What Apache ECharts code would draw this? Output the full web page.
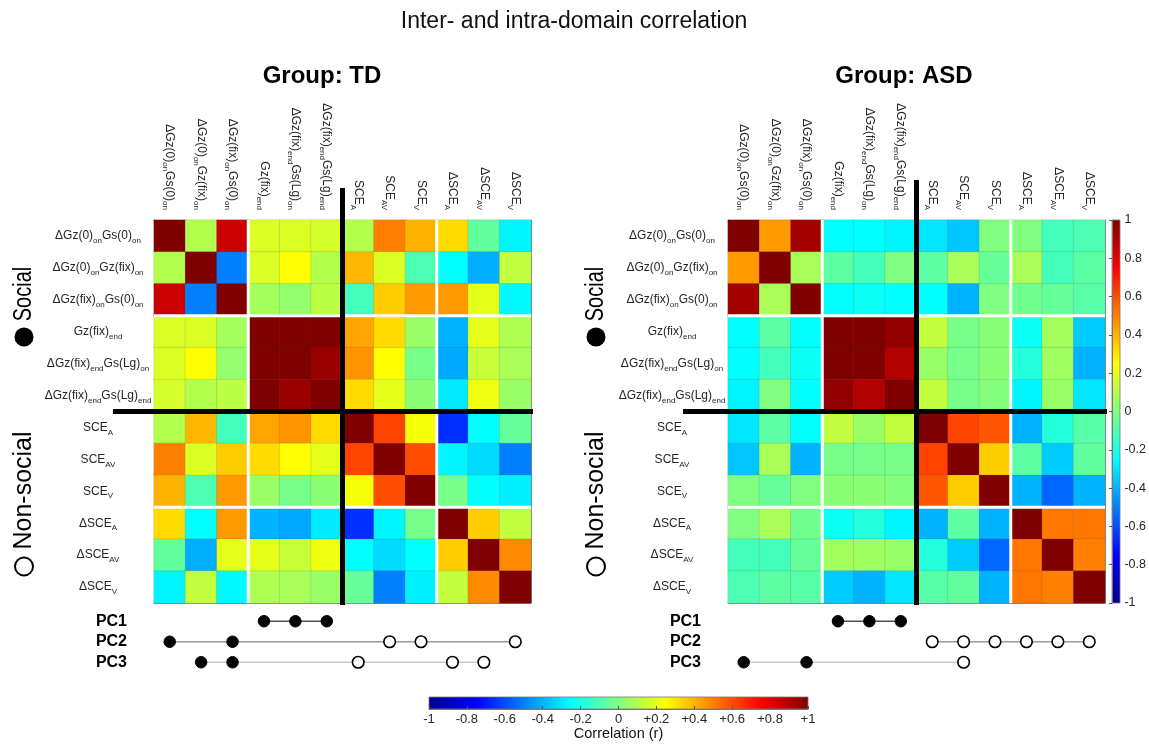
<!DOCTYPE html>
<html><head><meta charset="utf-8">
<script src="https://cdn.jsdelivr.net/npm/echarts@6/dist/echarts.min.js"></script>
<style>html,body{margin:0;padding:0;background:#fff}#c{width:1149px;height:744px}</style>
</head><body><div id="c"></div>
<script>
// ---------------- DATA ----------------
const varLabels = ['ΔGz(0)_{on}Gs(0)_{on}', 'ΔGz(0)_{on}Gz(fix)_{on}', 'ΔGz(fix)_{on}Gs(0)_{on}', 'Gz(fix)_{end}',
  'ΔGz(fix)_{end}Gs(Lg)_{on}', 'ΔGz(fix)_{end}Gs(Lg)_{end}', 'SCE_{A}', 'SCE_{AV}', 'SCE_{V}', 'ΔSCE_{A}', 'ΔSCE_{AV}', 'ΔSCE_{V}'];
const pcLabels = ['PC1', 'PC2', 'PC3'];
const domainLabels = ['Social', 'Non-social'];
const groupTitles = ['Group: TD', 'Group: ASD'];
const mainTitle = 'Inter- and intra-domain correlation';
const colorbarName = 'Correlation (r)';

const tdMatrix = [
  [1.00, 0.10, 0.85, 0.18, 0.18, 0.17, 0.10, 0.50, 0.40, 0.32, -0.06, -0.27],
  [0.10, 1.00, -0.50, 0.18, 0.25, 0.10, 0.39, 0.18, -0.10, -0.25, -0.41, 0.13],
  [0.85, -0.50, 1.00, 0.07, 0.04, 0.12, -0.12, 0.35, 0.45, 0.45, 0.20, -0.26],
  [0.18, 0.18, 0.07, 1.00, 1.00, 1.00, 0.43, 0.32, 0.05, -0.40, 0.20, 0.09],
  [0.18, 0.25, 0.04, 1.00, 1.00, 0.95, 0.46, 0.25, -0.02, -0.42, 0.14, 0.08],
  [0.17, 0.10, 0.12, 1.00, 0.95, 1.00, 0.32, 0.20, 0.02, -0.29, 0.22, 0.05],
  [0.10, 0.39, -0.12, 0.43, 0.46, 0.32, 1.00, 0.62, 0.23, -0.66, -0.25, -0.05],
  [0.50, 0.18, 0.35, 0.32, 0.25, 0.20, 0.62, 1.00, 0.60, -0.27, -0.32, -0.50],
  [0.40, -0.10, 0.45, 0.05, -0.02, 0.02, 0.23, 0.60, 1.00, -0.02, -0.25, -0.28],
  [0.32, -0.25, 0.45, -0.40, -0.42, -0.29, -0.66, -0.27, -0.02, 1.00, 0.35, 0.13],
  [-0.06, -0.41, 0.20, 0.20, 0.14, 0.22, -0.25, -0.32, -0.25, 0.35, 1.00, 0.48],
  [-0.27, 0.13, -0.26, 0.09, 0.08, 0.05, -0.05, -0.50, -0.28, 0.13, 0.48, 1.00]
];
const asdMatrix = [
  [1.00, 0.45, 0.93, -0.25, -0.25, -0.27, -0.30, -0.36, 0.00, 0.00, -0.12, -0.10],
  [0.45, 1.00, 0.08, -0.07, -0.12, 0.00, -0.07, 0.08, -0.05, 0.08, -0.12, -0.07],
  [0.93, 0.08, 1.00, -0.25, -0.23, -0.25, -0.25, -0.40, 0.00, -0.03, -0.05, -0.08],
  [-0.25, -0.07, -0.25, 1.00, 1.00, 0.96, 0.13, -0.02, 0.02, -0.23, 0.07, -0.35],
  [-0.25, -0.12, -0.23, 1.00, 1.00, 0.90, 0.05, -0.02, 0.02, -0.18, 0.06, -0.40],
  [-0.27, 0.00, -0.25, 0.96, 0.90, 1.00, 0.13, -0.02, 0.01, -0.27, 0.05, -0.30],
  [-0.30, -0.07, -0.25, 0.13, 0.05, 0.13, 1.00, 0.62, 0.58, -0.40, -0.18, -0.08],
  [-0.36, 0.08, -0.40, -0.02, -0.02, -0.02, 0.62, 1.00, 0.35, -0.07, -0.35, -0.06],
  [0.00, -0.05, 0.00, 0.02, 0.02, 0.01, 0.58, 0.35, 1.00, -0.40, -0.55, -0.40],
  [0.00, 0.08, -0.03, -0.23, -0.18, -0.27, -0.40, -0.07, -0.40, 1.00, 0.52, 0.52],
  [-0.12, -0.12, -0.05, 0.07, 0.06, 0.05, -0.18, -0.35, -0.55, 0.52, 1.00, 0.50],
  [-0.10, -0.07, -0.08, -0.35, -0.40, -0.30, -0.08, -0.06, -0.40, 0.52, 0.50, 1.00]
];

// PC loadings: column indices of variables (social = filled, non-social = open)
const tdPC1Social = [3, 4, 5],  tdPC1NonSocial = [];
const tdPC2Social = [0, 2],     tdPC2NonSocial = [7, 8, 11];
const tdPC3Social = [1, 2],     tdPC3NonSocial = [6, 9, 10];
const asdPC1Social = [3, 4, 5], asdPC1NonSocial = [];
const asdPC2Social = [],        asdPC2NonSocial = [6, 7, 8, 9, 10, 11];
const asdPC3Social = [0, 2],    asdPC3NonSocial = [7];

// ---------------- STYLE / LAYOUT ----------------
const FONT = '"Liberation Sans", Arial, Helvetica, sans-serif';
const TXT = '#262626';
const jet = ['#00008f', '#0000ff', '#0080ff', '#00ffff', '#80ff80', '#ffff00', '#ff8000', '#ff0000', '#800000'];
const panels = [
  { left: 154, top: 220, width: 377, height: 383, vExt: 32, hExt: 41, domainX: 24 },
  { left: 728, top: 220, width: 377, height: 383, vExt: 40, hExt: 45, domainX: 596 }
];
const pcGridTop = 611, pcGridH = 61.5;
const vcb = { left: 1112, top: 220, width: 8, height: 383 };
const hcb = { left: 429, top: 697, width: 379, height: 12 };

function toRich(s) {
  let out = '', last = 0, m;
  const re = /_\{([^}]*)\}/g;
  while ((m = re.exec(s))) {
    if (m.index > last) out += '{n|' + s.slice(last, m.index) + '}';
    out += '{s|' + m[1] + '}';
    last = re.lastIndex;
  }
  if (last < s.length) out += '{n|' + s.slice(last) + '}';
  return out;
}
const rich = {
  n: { fontSize: 12, fontFamily: FONT, color: TXT, lineHeight: 18 },
  s: { fontSize: 8, fontFamily: FONT, color: TXT, lineHeight: 9, verticalAlign: 'bottom' }
};
function cells(m) { const d = []; m.forEach((row, i) => row.forEach((v, j) => d.push([j, i, v]))); return d; }
function pcData(social, nonsocial, pc) {
  const items = [];
  social.forEach(c => items.push({ value: [c, pc], symbol: 'circle', itemStyle: { color: '#000', borderColor: '#000', borderWidth: 1 } }));
  nonsocial.forEach(c => items.push({ value: [c, pc], symbol: 'circle', itemStyle: { color: '#fff', borderColor: '#000', borderWidth: 1.6 } }));
  items.sort((a, b) => a.value[0] - b.value[0]);
  return items;
}

const grids = [], xAxes = [], yAxes = [], series = [];
const axisLineStyle = { show: true, lineStyle: { color: '#8c8c8c', width: 1 } };
panels.forEach(p => grids.push({ left: p.left, top: p.top, width: p.width, height: p.height }));
panels.forEach(p => grids.push({ left: p.left, top: pcGridTop, width: p.width, height: pcGridH }));
grids.push(vcb, hcb);

// heatmap axes: per panel -> x top (labels), x bottom, y left (labels), y right
panels.forEach((p, k) => {
  const tick = { inside: true, alignWithLabel: true, length: 3, lineStyle: { color: '#555' } };
  xAxes.push({ type: 'category', gridIndex: k, position: 'top', data: varLabels, axisLine: axisLineStyle, axisTick: tick,
    axisLabel: { rotate: 90, margin: 10, interval: 0, formatter: v => toRich(v), rich: rich } });
  xAxes.push({ type: 'category', gridIndex: k, position: 'bottom', data: varLabels, axisLine: axisLineStyle, axisTick: tick,
    axisLabel: { show: false } });
  yAxes.push({ type: 'category', gridIndex: k, position: 'left', inverse: true, data: varLabels, axisLine: axisLineStyle, axisTick: tick,
    axisLabel: { margin: 56, align: 'center', interval: 0, formatter: v => toRich(v), rich: rich } });
  yAxes.push({ type: 'category', gridIndex: k, position: 'right', inverse: true, data: varLabels, axisLine: axisLineStyle, axisTick: tick,
    axisLabel: { show: false } });
});
// PC axes
panels.forEach((p, k) => {
  xAxes.push({ type: 'category', gridIndex: 2 + k, data: varLabels, show: false });
  yAxes.push({ type: 'category', gridIndex: 2 + k, data: pcLabels, inverse: true,
    axisLine: { show: false }, axisTick: { show: false },
    axisLabel: { margin: 27, interval: 0, fontSize: 16, fontWeight: 'bold', color: '#000', fontFamily: FONT } });
});
// vertical colorbar axes
xAxes.push({ type: 'value', gridIndex: 4, min: 0, max: 1, show: false });
yAxes.push({ type: 'value', gridIndex: 4, position: 'right', min: -1, max: 1, interval: 0.2,
  axisLine: { show: true, lineStyle: { color: '#777' } },
  axisTick: { show: true, inside: true, length: 3, lineStyle: { color: '#555' } },
  splitLine: { show: false },
  axisLabel: { margin: 5, fontSize: 12.5, color: TXT, fontFamily: FONT, formatter: v => String(Math.round(v * 10) / 10) } });
// horizontal colorbar axes
xAxes.push({ type: 'value', gridIndex: 5, position: 'bottom', min: -1, max: 1, interval: 0.2,
  axisLine: { show: true, lineStyle: { color: '#777' } },
  axisTick: { show: true, inside: true, length: 3, lineStyle: { color: '#555' } },
  splitLine: { show: false },
  name: colorbarName, nameLocation: 'middle', nameGap: 17,
  nameTextStyle: { fontSize: 14.5, color: '#111', fontFamily: FONT },
  axisLabel: { margin: 4, fontSize: 13, color: TXT, fontFamily: FONT, formatter: v => { const r = Math.round(v * 10) / 10; return r > 0 ? '+' + r : String(r); } } });
yAxes.push({ type: 'value', gridIndex: 5, min: 0, max: 1, show: false });

// heatmap series
[tdMatrix, asdMatrix].forEach((m, k) => {
  series.push({ type: 'heatmap', xAxisIndex: 2 * k, yAxisIndex: 2 * k, data: cells(m),
    itemStyle: { borderColor: 'rgba(60,60,60,0.22)', borderWidth: 0.6 }, emphasis: { disabled: true }, silent: true });
});
// PC series
const pcLineColors = ['#4d4d4d', '#9a9a9a', '#c9c9c9'];
const tdPCs = [[tdPC1Social, tdPC1NonSocial], [tdPC2Social, tdPC2NonSocial], [tdPC3Social, tdPC3NonSocial]];
const asdPCs = [[asdPC1Social, asdPC1NonSocial], [asdPC2Social, asdPC2NonSocial], [asdPC3Social, asdPC3NonSocial]];
[tdPCs, asdPCs].forEach((pcs, k) => {
  pcs.forEach((pc, i) => {
    series.push({ type: 'line', xAxisIndex: 4 + k, yAxisIndex: 4 + k, data: pcData(pc[0], pc[1], pcLabels[i]),
      symbolSize: 11.5, showSymbol: true, lineStyle: { color: pcLineColors[i], width: 1.5 }, silent: true, z: 3 });
  });
});

const option = {
  animation: false,
  textStyle: { fontFamily: FONT },
  visualMap: { type: 'continuous', show: false, min: -1, max: 1, seriesIndex: [0, 1], inRange: { color: jet } },
  grid: grids, xAxis: xAxes, yAxis: yAxes, series: series
};

const chart = echarts.init(document.getElementById('c'), null, { renderer: 'canvas' });
chart.setOption(option);

// ---------------- GRAPHICS (derived from axis scales) ----------------
const g = [];
g.push({ type: 'text', x: 574, y: 22, style: { text: mainTitle, font: '23px ' + FONT, fill: '#111', align: 'center', verticalAlign: 'middle' } });
[322, 904].forEach((x, k) => g.push({ type: 'text', x: x, y: 76, style: { text: groupTitles[k], font: 'bold 24px ' + FONT, fill: '#000', align: 'center', verticalAlign: 'middle' } }));
panels.forEach((p, k) => {
  const P = (x, y) => chart.convertToPixel({ seriesIndex: k }, [x, y]);
  const c00 = P(0, 0), c11 = P(1, 1), cLast = P(11, 11);
  const cw = c11[0] - c00[0], ch = c11[1] - c00[1];
  const left = c00[0] - cw / 2, right = cLast[0] + cw / 2, top = c00[1] - ch / 2, bottom = cLast[1] + ch / 2;
  const bx = i => P(i, 0)[0] - cw / 2, by = i => P(0, i)[1] - ch / 2;
  [3, 9].forEach(i => {
    g.push({ type: 'line', z: 95, shape: { x1: bx(i), y1: top, x2: bx(i), y2: bottom }, style: { stroke: '#fff', lineWidth: 3 } });
    g.push({ type: 'line', z: 95, shape: { x1: left, y1: by(i), x2: right, y2: by(i) }, style: { stroke: '#fff', lineWidth: 3 } });
  });
  g.push({ type: 'line', z: 96, shape: { x1: bx(6), y1: top - p.vExt, x2: bx(6), y2: bottom + 2 }, style: { stroke: '#000', lineWidth: 5 } });
  g.push({ type: 'line', z: 96, shape: { x1: left - p.hExt, y1: by(6), x2: right + 2, y2: by(6) }, style: { stroke: '#000', lineWidth: 5 } });
  // domain labels (rotated), with circle markers: filled = social, open = non-social
  const mid6 = by(6);
  g.push({ type: 'text', x: p.domainX, y: top + 74, rotation: Math.PI / 2, scaleX: 0.8,
    style: { text: domainLabels[0], font: '25px ' + FONT, fill: '#000', align: 'center', verticalAlign: 'middle' } });
  g.push({ type: 'circle', shape: { cx: p.domainX, cy: top + 117, r: 9.5 }, style: { fill: '#000' } });
  g.push({ type: 'text', x: p.domainX, y: mid6 + 79, rotation: Math.PI / 2,
    style: { text: domainLabels[1], font: '25px ' + FONT, fill: '#000', align: 'center', verticalAlign: 'middle' } });
  g.push({ type: 'circle', shape: { cx: p.domainX, cy: mid6 + 155, r: 9 }, style: { fill: '#fff', stroke: '#000', lineWidth: 2 } });
});
// colorbar gradients
const stopsV = jet.map((c, i) => ({ offset: i / (jet.length - 1), color: c }));
g.push({ type: 'rect', z: -1, shape: { x: vcb.left, y: vcb.top, width: vcb.width, height: vcb.height },
  style: { fill: new echarts.graphic.LinearGradient(0, 1, 0, 0, stopsV), stroke: '#777', lineWidth: 0.8 } });
g.push({ type: 'rect', z: -1, shape: { x: hcb.left, y: hcb.top, width: hcb.width, height: hcb.height },
  style: { fill: new echarts.graphic.LinearGradient(0, 0, 1, 0, stopsV), stroke: '#777', lineWidth: 0.8 } });
chart.setOption({ graphic: g });
</script></body></html>
